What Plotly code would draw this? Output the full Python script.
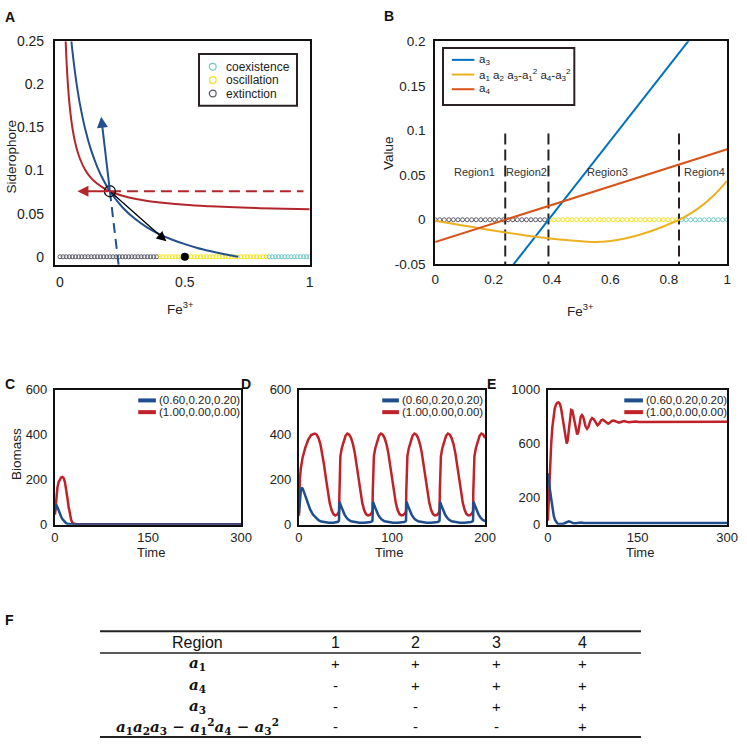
import plotly.graph_objects as go

W = H = 747
def fx(p): return p / W
def fy(p): return 1 - p / H

FONT = "Liberation Sans, Arial, sans-serif"
MATH = "DejaVu Serif, serif"

# ---------------- Panel A data ----------------
fe_red = [0.0228, 0.026, 0.03, 0.035, 0.04, 0.05, 0.06, 0.07, 0.08, 0.10, 0.125, 0.15, 0.175, 0.20,
          0.25, 0.30, 0.35, 0.40, 0.50, 0.60, 0.70, 0.80, 0.90, 1.00]
sid_red = [0.2500, 0.2289, 0.2078, 0.1875, 0.1718, 0.1492, 0.1337, 0.1223, 0.1137, 0.1013, 0.0913,
           0.0846, 0.0797, 0.0760, 0.0708, 0.0673, 0.0648, 0.0630, 0.0603, 0.0586, 0.0573, 0.0563,
           0.0556, 0.0550]
fe_blue = [0.0458, 0.05, 0.06, 0.07, 0.08, 0.10, 0.125, 0.15, 0.175, 0.20, 0.25, 0.30, 0.35, 0.40,
           0.45, 0.50, 0.55, 0.60, 0.65, 0.70, 0.714]
sid_blue = [0.2500, 0.2385, 0.2145, 0.1943, 0.1771, 0.1494, 0.1234, 0.1038, 0.0884, 0.0760, 0.0574,
            0.0440, 0.0339, 0.0260, 0.0197, 0.0146, 0.0102, 0.0066, 0.0034, 0.0007, 0.0]
eq_point = [0.2, 0.076]
blue_arrow_tip = [0.165, 0.1625]
blue_dash_end = [0.235, -0.01]
red_arrow_tip = [0.07, 0.076]
red_dash_end = [0.975, 0.076]
black_arrow_tip = [0.426, 0.018]
init_point = [0.5, 0.0]
a_grid = [round(i * 0.0125, 4) for i in range(81)]       # Fe3+ sweep grid (panel A)
b_grid = [round(i / 64, 4) for i in range(65)]           # Fe3+ sweep grid (panel B)
region_bounds = [0.24, 0.388, 0.835]
state_names = ["coexistence", "oscillation", "extinction"]
state_colors = {"coexistence": "#72c8c8", "oscillation": "#f2e21a", "extinction": "#5a5a66"}

def state_of(x):
    if x < region_bounds[1]:
        return "extinction"
    if x <= region_bounds[2]:
        return "oscillation"
    return "coexistence"

# ---------------- Panel B data ----------------
b_x_lin = [0.0, 1.0]
a3_vals = [-0.1622, 0.2558]
a4_vals = [-0.025, 0.079]
b_x_poly = [0, 0.05, 0.1, 0.15, 0.2, 0.25, 0.3, 0.35, 0.4, 0.45, 0.5, 0.55, 0.6, 0.65, 0.7, 0.75,
            0.8, 0.85, 0.9, 0.95, 1.0]
hurwitz_vals = [-0.001, -0.0038, -0.0066, -0.0094, -0.0121, -0.0147, -0.0171, -0.0193, -0.0212,
                -0.0228, -0.0241, -0.0249, -0.0238, -0.0210, -0.0168, -0.0115, -0.0050, 0.0025,
                0.0125, 0.0260, 0.0435]
region_labels = ["Region1", "Region2", "Region3", "Region4"]
region_label_x = [0.134, 0.312, 0.59, 0.921]
region_label_y = 0.053
dash_top = 0.0966

# ---------------- Panel C/D/E data ----------------
legend_names = ["(0.60,0.20,0.20)", "(1.00,0.00,0.00)"]

c_blue_t = [0, 1, 2, 4, 6, 8, 10, 12, 15, 18, 21, 25, 30, 300]
c_blue_v = [60, 85, 90, 78, 62, 47, 35, 25, 14, 7, 3, 1, 0.5, 0.5]
c_red_t = [0, 2, 4, 6, 8, 10, 12, 14, 16, 18, 20, 22, 24, 26, 28, 30, 33, 36, 40, 50, 300]
c_red_v = [45, 120, 165, 190, 203, 210, 212, 207, 190, 160, 120, 80, 45, 22, 10, 5, 3, 2, 2, 2, 2]

d_red_t = [0, 0.5, 1, 2, 4, 7, 10, 13, 17, 19, 21, 23, 25, 27, 29, 31, 33, 35, 37, 39, 41, 43,
           43.3, 43.8, 44.5, 46, 48, 50, 52, 54, 56, 58, 60, 62, 64, 66, 68, 70, 72, 74, 76, 78, 79,
           79.3, 79.8, 80.5, 82, 84, 86, 88, 90, 92, 94, 96, 98, 100, 102, 104, 106, 108, 110, 112, 114, 115,
           115.3, 115.8, 116.5, 118, 120, 122, 124, 126, 128, 130, 132, 134, 136, 138, 140, 142, 144, 146, 148, 150, 151,
           151.3, 151.8, 152.5, 154, 156, 158, 160, 162, 164, 166, 168, 170, 172, 174, 176, 178, 180, 182, 184, 186, 187,
           187.3, 187.8, 188.5, 190, 192, 194, 196, 198, 200]
d_red_v = [40, 130, 200, 250, 300, 345, 378, 398, 405, 400, 385, 358, 318, 265, 205, 145, 97, 65, 47, 41, 45, 58,
           150, 260, 305, 340, 372, 395, 405, 400, 385, 358, 318, 265, 205, 145, 97, 65, 47, 41, 43, 52, 60,
           150, 260, 305, 340, 372, 395, 405, 400, 385, 358, 318, 265, 205, 145, 97, 65, 47, 41, 43, 52, 60,
           150, 260, 305, 340, 372, 395, 405, 400, 385, 358, 318, 265, 205, 145, 97, 65, 47, 41, 43, 52, 60,
           150, 260, 305, 340, 372, 395, 405, 400, 385, 358, 318, 265, 205, 145, 97, 65, 47, 41, 43, 52, 60,
           150, 260, 305, 340, 372, 395, 405, 400, 385]
d_blue_t = [0, 1, 2, 3, 4, 6, 8, 10, 12, 15, 18, 21, 24, 28, 32, 37, 40, 42, 43,
            43.5, 44, 45, 47, 49, 51, 53, 56, 60, 65, 70, 74, 77, 78.5, 79,
            79.5, 80, 81, 83, 85, 87, 89, 92, 96, 101, 106, 110, 113, 114.5, 115,
            115.5, 116, 117, 119, 121, 123, 125, 128, 132, 137, 142, 146, 149, 150.5, 151,
            151.5, 152, 153, 155, 157, 159, 161, 164, 168, 173, 178, 182, 185, 186.5, 187,
            187.5, 188, 189, 191, 193, 195, 197, 200]
d_blue_v = [50, 110, 150, 165, 160, 138, 112, 88, 68, 45, 30, 20, 14, 11, 9, 9, 10, 13, 18,
            100, 98, 85, 62, 45, 32, 23, 15, 11, 9, 9, 10, 12, 15, 18,
            100, 98, 85, 62, 45, 32, 23, 15, 11, 9, 9, 10, 12, 15, 18,
            100, 98, 85, 62, 45, 32, 23, 15, 11, 9, 9, 10, 12, 15, 18,
            100, 98, 85, 62, 45, 32, 23, 15, 11, 9, 9, 10, 12, 15, 18,
            100, 98, 85, 62, 45, 32, 23, 15]

e_red_t = [0, 1, 2.7, 5.5, 7.5, 9.3, 11.5, 13.7, 16, 18, 20, 22, 24, 26, 28, 30, 31.5, 33, 35, 37,
           39, 41, 43, 45, 47, 49, 51, 53, 55, 57, 59, 61, 63, 65.5, 68, 71, 74, 77, 80, 83,
           86, 89, 92, 95, 98, 101, 104, 107, 110, 113, 116, 119, 122, 125, 128, 131, 135, 139, 143, 147,
           152, 157, 162, 168, 175, 185, 200, 300]
e_red_v = [30, 150, 350, 590, 720, 805, 860, 890, 903, 905, 895, 865, 810, 740, 670, 615, 600, 620, 700, 800,
           850, 845, 800, 735, 690, 668, 685, 750, 800, 812, 800, 765, 728, 710, 725, 770, 790, 780, 752, 736,
           748, 772, 778, 768, 752, 748, 757, 768, 771, 765, 757, 755, 760, 766, 767, 763, 758, 760, 764, 764,
           760, 760, 763, 762, 761, 762, 762, 762]
e_blue_t = [0, 1, 2, 4, 6, 8, 10, 12, 14, 16, 18, 21, 24, 27, 30, 33, 35, 37, 40, 43,
            46, 50, 53, 56, 60, 64, 68, 72, 76, 82, 90, 100, 300]
e_blue_v = [380, 360, 320, 240, 165, 105, 62, 35, 18, 9, 5, 4, 5, 9, 16, 23, 25, 22, 14, 10,
            10, 13, 17, 16, 12, 11, 13, 14, 13, 12, 13, 12, 12]

# ---------------- Panel F (table) data ----------------
table_header = ["Region", "1", "2", "3", "4"]
table_row_labels = [
    "<b><i>a</i><sub>1</sub></b>",
    "<b><i>a</i><sub>4</sub></b>",
    "<b><i>a</i><sub>3</sub></b>",
    "<b><i>a</i><sub>1</sub><i>a</i><sub>2</sub><i>a</i><sub>3</sub> − <i>a</i><sub>1</sub><sup>2</sup><i>a</i><sub>4</sub> − <i>a</i><sub>3</sub><sup>2</sup></b>",
]
table_signs = [["+", "+", "+", "+"],
               ["-", "+", "+", "+"],
               ["-", "-", "+", "+"],
               ["-", "-", "-", "+"]]

# ---------------- colors ----------------
A_RED, A_BLUE = "#b2262c", "#23508e"
B_BLUE, B_YEL, B_ORG = "#0072BD", "#EDB120", "#D95319"
T_BLUE, T_RED = "#1f4e8f", "#bf2229"

fig = go.Figure()

# ===== Panel A =====
for st in ["extinction", "oscillation", "coexistence"]:
    xs = [x for x in a_grid if state_of(x) == st]
    fig.add_trace(go.Scatter(x=xs, y=[0] * len(xs), mode="markers", xaxis="x", yaxis="y",
                             marker=dict(symbol="circle-open", size=4, color=state_colors[st],
                                         line=dict(width=1)), showlegend=False, hoverinfo="skip"))
fig.add_trace(go.Scatter(x=fe_red, y=sid_red, mode="lines", line=dict(color=A_RED, width=2, shape="spline"),
                         xaxis="x", yaxis="y", showlegend=False))
fig.add_trace(go.Scatter(x=fe_blue, y=sid_blue, mode="lines", line=dict(color=A_BLUE, width=2, shape="spline"),
                         xaxis="x", yaxis="y", showlegend=False))
fig.add_trace(go.Scatter(x=[eq_point[0], blue_dash_end[0]], y=[eq_point[1], blue_dash_end[1]], mode="lines",
                         line=dict(color=A_BLUE, width=2, dash="10px,6px"), xaxis="x", yaxis="y", showlegend=False))
fig.add_trace(go.Scatter(x=[eq_point[0], red_dash_end[0]], y=[eq_point[1], red_dash_end[1]], mode="lines",
                         line=dict(color=A_RED, width=2, dash="11px,6px"), xaxis="x", yaxis="y", showlegend=False))
fig.add_trace(go.Scatter(x=[eq_point[0]], y=[eq_point[1]], mode="markers", xaxis="x", yaxis="y",
                         marker=dict(symbol="circle-open", size=11, color="#111", line=dict(width=1.3)),
                         showlegend=False))
fig.add_trace(go.Scatter(x=[init_point[0]], y=[init_point[1]], mode="markers", xaxis="x", yaxis="y",
                         marker=dict(symbol="circle", size=8, color="#000"), showlegend=False))

# ===== Panel B =====
for st in ["extinction", "oscillation", "coexistence"]:
    xs = [x for x in b_grid if state_of(x) == st]
    fig.add_trace(go.Scatter(x=xs, y=[0] * len(xs), mode="markers", xaxis="x2", yaxis="y2",
                             marker=dict(symbol="circle-open", size=4, color=state_colors[st],
                                         line=dict(width=1)), showlegend=False, hoverinfo="skip"))
for xb in [region_bounds[0], region_bounds[1], region_bounds[2]]:
    fig.add_trace(go.Scatter(x=[xb, xb], y=[dash_top, -0.05], mode="lines", xaxis="x2", yaxis="y2",
                             line=dict(color="#2a2222", width=2, dash="11px,5px"), showlegend=False))
fig.add_trace(go.Scatter(x=b_x_lin, y=a3_vals, mode="lines", line=dict(color=B_BLUE, width=2),
                         xaxis="x2", yaxis="y2", showlegend=False))
fig.add_trace(go.Scatter(x=b_x_poly, y=hurwitz_vals, mode="lines", line=dict(color=B_YEL, width=2, shape="spline"),
                         xaxis="x2", yaxis="y2", showlegend=False))
fig.add_trace(go.Scatter(x=b_x_lin, y=a4_vals, mode="lines", line=dict(color=B_ORG, width=2),
                         xaxis="x2", yaxis="y2", showlegend=False))

# ===== Panels C, D, E =====
for (bt, bv, rt, rv, xa, ya) in [(c_blue_t, c_blue_v, c_red_t, c_red_v, "x3", "y3"),
                                 (d_blue_t, d_blue_v, d_red_t, d_red_v, "x4", "y4"),
                                 (e_blue_t, e_blue_v, e_red_t, e_red_v, "x5", "y5")]:
    fig.add_trace(go.Scatter(x=rt, y=rv, mode="lines", line=dict(color=T_RED, width=2.5),
                             xaxis=xa, yaxis=ya, showlegend=False))
    fig.add_trace(go.Scatter(x=bt, y=bv, mode="lines", line=dict(color=T_BLUE, width=2.5),
                             xaxis=xa, yaxis=ya, showlegend=False))

def axis(domain, rng, tickvals, ticktext, size, standoff, anchor):
    return dict(domain=domain, range=rng, tickvals=tickvals, ticktext=ticktext, anchor=anchor,
                showline=True, mirror=True, linecolor="#111", linewidth=2, ticks="", ticklen=0,
                showgrid=False, zeroline=False, ticklabelstandoff=standoff,
                tickfont=dict(family=FONT, size=size, color="#222"))

fig.update_layout(
    width=W, height=H, margin=dict(l=0, r=0, t=0, b=0), autosize=False,
    paper_bgcolor="white", plot_bgcolor="white", showlegend=False,
    xaxis=axis([fx(52), fx(312)], [-0.02, 1.0], [0, 0.5, 1], ["0", "0.5", "1"], 14, 3, "y"),
    yaxis=axis([fy(263), fy(34)], [-0.01, 0.25], [0, 0.05, 0.1, 0.15, 0.2, 0.25],
               ["0", "0.05", "0.1", "0.15", "0.2", "0.25"], 14, 6, "x"),
    xaxis2=axis([fx(440), fx(738)], [0, 1], [0, 0.2, 0.4, 0.6, 0.8, 1],
                ["0", "0.2", "0.4", "0.6", "0.8", "1"], 13.5, 1, "y2"),
    yaxis2=axis([fy(262), fy(34)], [-0.05, 0.2], [-0.05, 0, 0.05, 0.1, 0.15, 0.2],
                ["-0.05", "0", "0.05", "0.1", "0.15", "0.2"], 13.5, 5, "x2"),
    xaxis3=axis([fx(52), fx(242)], [0, 300], [0, 150, 300], ["0", "150", "300"], 13, 0, "y3"),
    yaxis3=axis([fy(528), fy(390)], [0, 600], [0, 200, 400, 600], ["0", "200", "400", "600"], 13, 3, "x3"),
    xaxis4=axis([fx(301), fx(491)], [0, 200], [0, 100, 200], ["0", "100", "200"], 13, 0, "y4"),
    yaxis4=axis([fy(528), fy(390)], [0, 600], [0, 200, 400, 600], ["0", "200", "400", "600"], 13, 3, "x4"),
    xaxis5=axis([fx(555), fx(738)], [0, 300], [0, 150, 300], ["0", "150", "300"], 13, 0, "y5"),
    yaxis5=axis([fy(528), fy(390)], [0, 1000], [0, 200, 600, 1000], ["0", "200", "600", "1000"], 13, 3, "x5"),
)

ann = []
shapes = []

def text(px, py, s, size=13, anchor="center", angle=0, family=FONT, color="#222", bold=False):
    if bold:
        s = "<b>" + s + "</b>"
    ann.append(dict(x=fx(px), y=fy(py), xref="paper", yref="paper", text=s, showarrow=False,
                    xanchor=anchor, yanchor="middle", textangle=angle,
                    font=dict(family=family, size=size, color=color)))

# panel letters
for lab, px, py in [("A", 6, 9), ("B", 393, 8), ("C", 6, 384), ("D", 247, 384), ("E", 497, 384), ("F", 6, 625)]:
    text(px, py, lab, size=14, anchor="center", bold=True, color="#111")

# axis titles
text(8, 152, "Siderophore", size=13.5, angle=-90)
text(180, 307, "Fe<sup>3+</sup>", size=13.5)
text(393, 148, "Value", size=13.5, angle=-90)
text(588, 309, "Fe<sup>3+</sup>", size=13.5)
text(12, 456, "Biomass", size=13.5, angle=-90)
text(150, 556, "Time", size=13)
text(393, 556, "Time", size=13)
text(649, 556, "Time", size=13)

# arrows in panel A
for tip, col, w, size in [(blue_arrow_tip, A_BLUE, 2, 1.1), (red_arrow_tip, A_RED, 2, 1.1),
                          (black_arrow_tip, "#000", 1.3, 1.5)]:
    ann.append(dict(x=tip[0], y=tip[1], ax=eq_point[0], ay=eq_point[1], xref="x", yref="y",
                    axref="x", ayref="y", text="", showarrow=True, arrowhead=2, arrowsize=size,
                    arrowwidth=w, arrowcolor=col, standoff=0, startstandoff=0))

# region labels in panel B
for lab, rx in zip(region_labels, region_label_x):
    ann.append(dict(x=rx, y=region_label_y, xref="x2", yref="y2", text=lab, showarrow=False,
                    font=dict(family=FONT, size=11, color="#333")))

# legend A
shapes.append(dict(type="rect", xref="paper", yref="paper", x0=fx(199), x1=fx(299), y0=fy(100), y1=fy(47),
                   line=dict(color="#2a2222", width=2), fillcolor="white"))
for i, st in enumerate(state_names):
    yy = 60 + 13.7 * i
    shapes.append(dict(type="circle", xref="paper", yref="paper", x0=fx(209.5), x1=fx(216.5),
                       y0=fy(yy + 3.5), y1=fy(yy - 3.5), line=dict(color=state_colors[st], width=1.2)))
    text(225, yy, st, size=12, anchor="left")

# legend B
shapes.append(dict(type="rect", xref="paper", yref="paper", x0=fx(448), x1=fx(582), y0=fy(99), y1=fy(41),
                   line=dict(color="#2a2222", width=2), fillcolor="white"))
b_leg = [("a<sub>3</sub>", B_BLUE),
         ("a<sub>1</sub> a<sub>2</sub> a<sub>3</sub>-a<sub>1</sub><sup>2</sup> a<sub>4</sub>-a<sub>3</sub><sup>2</sup>", B_YEL),
         ("a<sub>4</sub>", B_ORG)]
for i, (lab, col) in enumerate(b_leg):
    yy = 53 + 15 * i
    shapes.append(dict(type="line", xref="paper", yref="paper", x0=fx(457), x1=fx(480), y0=fy(yy), y1=fy(yy),
                       line=dict(color=col, width=2)))
    text(483, yy, lab, size=11.5, anchor="left")

# legends C/D/E
for x0, x1 in [(137, 155), (386, 403), (633, 652)]:
    for i, (lab, col) in enumerate(zip(legend_names, [T_BLUE, T_RED])):
        yy = 401 + 12 * i
        shapes.append(dict(type="line", xref="paper", yref="paper", x0=fx(x0), x1=fx(x1), y0=fy(yy), y1=fy(yy),
                           line=dict(color=col, width=4)))
        text(x1 + 1, yy, lab, size=11.5, anchor="left")

# table F
for py, w in [(637, 2), (659, 1.5), (745, 2)]:
    shapes.append(dict(type="line", xref="paper", yref="paper", x0=fx(98), x1=fx(650), y0=fy(py), y1=fy(py),
                       line=dict(color="#222", width=w)))
col_x = [197, 338, 420, 503, 590]
row_y = [670, 692, 714, 734]
for cx, h in zip(col_x, table_header):
    text(cx, 648, h, size=16, color="#111")
for ry, lab, signs in zip(row_y, table_row_labels, table_signs):
    text(col_x[0], ry, lab, size=15, family=MATH, color="#111")
    for cx, s in zip(col_x[1:], signs):
        text(cx, ry, s, size=15, color="#111")

fig.update_layout(annotations=ann, shapes=shapes)
fig.write_html("out.html", config={"displayModeBar": False},
               post_script="document.body.style.margin='0px';")
